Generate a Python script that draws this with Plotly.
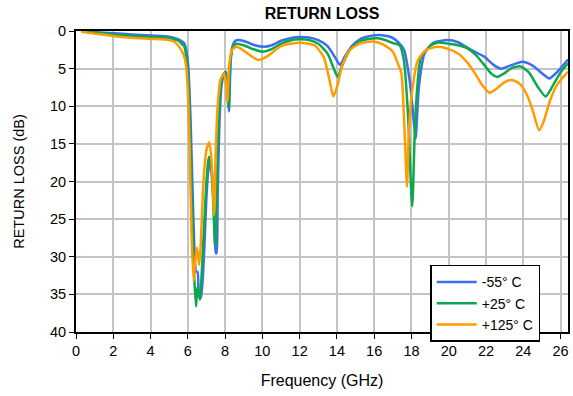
import plotly.graph_objects as go

# -55 C
f_blue = [0.3, 1, 2, 3, 4, 5, 5.5, 5.8, 6.0, 6.15, 6.3, 6.45, 6.52, 6.6, 6.7, 6.8, 6.9, 7.0, 7.1, 7.2, 7.3, 7.4, 7.5, 7.54,
          7.6, 7.7, 7.8, 7.9, 8.04, 8.12, 8.21, 8.3, 8.4, 8.55, 8.75, 9.2, 9.6, 10.08, 10.5, 11.0, 11.5, 12.0, 12.5, 13.0,
          13.5, 13.9, 14.17, 14.4, 14.8, 15.3, 15.8, 16.4, 16.9, 17.3, 17.6, 17.9, 18.05, 18.22, 18.4, 18.7, 19.15, 19.95,
          20.5, 21.2, 21.9, 22.4, 22.8, 23.3, 23.95, 24.5, 25.0, 25.4, 25.8, 26.4]
rl_blue = [0.05, 0.15, 0.3, 0.45, 0.6, 0.75, 1.1, 1.6, 4.0, 12, 25, 32, 32, 35, 35.5, 33, 28, 22, 18.5, 17.6, 19, 23, 29.5, 29.5,
           22, 12, 7.5, 6.0, 5.4, 6.5, 10.7, 4.0, 2.0, 1.3, 1.2, 1.5, 1.9, 2.1, 1.9, 1.3, 0.95, 0.8, 0.85, 1.2,
           2.0, 3.5, 4.5, 3.5, 2.0, 1.0, 0.65, 0.55, 0.8, 1.5, 2.5, 6.5, 10, 14.3, 7.4, 3.0, 1.6, 1.2,
           1.5, 2.5, 3.4, 4.5, 5.0, 4.6, 4.1, 4.6, 5.6, 6.3, 5.5, 3.8]

# +25 C
f_green = [0.3, 1, 2, 3, 4, 5, 5.5, 5.7, 5.8, 5.95, 6.1, 6.25, 6.35, 6.44, 6.52, 6.65, 6.75, 6.85, 7.0, 7.1, 7.15, 7.25, 7.35,
           7.47, 7.55, 7.65, 7.75, 7.9, 8.0, 8.1, 8.18, 8.28, 8.4, 8.6, 9.0, 9.5, 10.0, 10.5, 11.0, 11.5, 12.0, 12.5, 13.0,
           13.5, 13.8, 14.04, 14.3, 14.7, 15.2, 15.7, 16.2, 16.7, 17.0, 17.37, 17.6, 17.81, 18.04, 18.22, 18.52, 19.06,
           19.4, 20.0, 20.5, 21.0, 21.5, 21.9, 22.3, 22.6, 23.0, 23.4, 23.85, 24.3, 24.8, 25.2, 25.6, 26.0, 26.4]
rl_green = [0.05, 0.2, 0.45, 0.65, 0.8, 0.95, 1.3, 1.8, 2.0, 4.0, 12, 26, 33, 36.6, 34, 35.7, 32, 27, 20, 17.2, 16.7, 18, 22,
            28.7, 22, 12, 7.5, 5.8, 5.6, 7.0, 10.3, 4.0, 2.2, 1.7, 1.9, 2.4, 2.75, 2.4, 1.7, 1.25, 1.1, 1.2, 1.7,
            3.0, 4.8, 6.1, 4.5, 2.5, 1.4, 1.05, 0.97, 1.3, 1.6, 1.9, 4.0, 10.9, 23.3, 10.9, 3.4, 1.9,
            1.55, 1.7, 1.9, 2.3, 3.3, 4.5, 5.7, 6.1, 5.6, 4.9, 4.7, 5.5, 7.5, 8.7, 7.2, 5.5, 4.3]

# +125 C
f_orange = [0.3, 1, 2, 3, 4, 5, 5.3, 5.5, 5.75, 5.9, 6.0, 6.1, 6.2, 6.31, 6.4, 6.49, 6.61, 6.7, 6.8, 6.9, 7.0, 7.15, 7.25, 7.35,
            7.41, 7.5, 7.6, 7.75, 7.95, 8.05, 8.12, 8.22, 8.35, 8.6, 9.0, 9.5, 9.8, 10.3, 11.0, 12.0, 12.8, 13.3, 13.6,
            13.81, 14.0, 14.3, 14.7, 15.3, 15.95, 16.5, 17.0, 17.3, 17.46, 17.63, 17.76, 17.85, 18.0, 18.35, 18.8, 19.4,
            20.0, 20.5, 21.0, 21.4, 21.8, 22.2, 22.6, 23.0, 23.4, 23.8, 24.2, 24.5, 24.85, 25.1, 25.4, 25.8, 26.4]
rl_orange = [0.1, 0.35, 0.65, 0.9, 1.05, 1.2, 1.5, 2.0, 3.0, 4.5, 8, 16, 27, 33.3, 30.5, 28.8, 31.1, 28, 22, 18, 15.8, 14.8, 16.5, 21,
             24.5, 16, 10, 6.5, 5.6, 7.0, 9.4, 4.5, 2.6, 2.1, 2.6, 3.5, 3.85, 3.3, 2.0, 1.55, 1.9, 3.5, 6.5,
             8.7, 7.5, 4.5, 2.5, 1.6, 1.4, 1.8, 2.75, 4.5, 5.6, 13.2, 20.7, 14, 8.7, 3.85, 2.5, 2.1,
             2.4, 3.0, 4.2, 5.6, 7.2, 8.2, 7.6, 6.8, 6.5, 7.0, 8.5, 10.5, 13.2, 12, 9.5, 7.2, 5.4]

series_names = ["-55° C", "+25° C", "+125° C"]
colors = ["#3C6EF0", "#0DA84E", "#FF9C00"]
x_ticks = list(range(0, 27, 2))
y_ticks = list(range(0, 41, 5))

fig = go.Figure()
for name, fx, ry, c in zip(series_names, [f_blue, f_green, f_orange], [rl_blue, rl_green, rl_orange], colors):
    fig.add_trace(go.Scatter(x=fx, y=ry, mode="lines", name=name,
                             line=dict(color=c, width=2.5, shape="spline", smoothing=0.6)))

fig.update_layout(
    width=573, height=396,
    margin=dict(l=76, r=3, t=31, b=64),
    paper_bgcolor="white", plot_bgcolor="white",
    font=dict(family="Liberation Sans, Arial, sans-serif", size=14, color="black"),
    title=dict(text="<b>RETURN LOSS</b>", x=0.5, xref="paper", xanchor="center",
               y=0.965, yref="container", yanchor="middle", font=dict(size=16)),
    showlegend=True,
    legend=dict(x=0.72, y=0.223, xanchor="left", yanchor="top",
                bordercolor="black", borderwidth=1.5, bgcolor="white",
                font=dict(size=14), tracegroupgap=0, itemwidth=40),
)
fig.update_xaxes(range=[0, 26.4], tickvals=x_ticks, ticks="outside", ticklen=5, tickcolor="black",
                 showline=True, linecolor="black", linewidth=2, mirror=True,
                 showgrid=True, gridcolor="#c4c4c4", gridwidth=1.5, zeroline=False,
                 title=dict(text="Frequency (GHz)", font=dict(size=16), standoff=16),
                 tickfont=dict(size=14.5))
fig.update_yaxes(range=[40, 0], tickvals=y_ticks, ticks="outside", ticklen=5, tickcolor="black",
                 showline=True, linecolor="black", linewidth=2, mirror=True,
                 showgrid=True, gridcolor="#c4c4c4", gridwidth=1.5, zeroline=False,
                 title=dict(text="RETURN LOSS (dB)", font=dict(size=14.5), standoff=22),
                 tickfont=dict(size=14.5))

fig.write_html("out.html")
